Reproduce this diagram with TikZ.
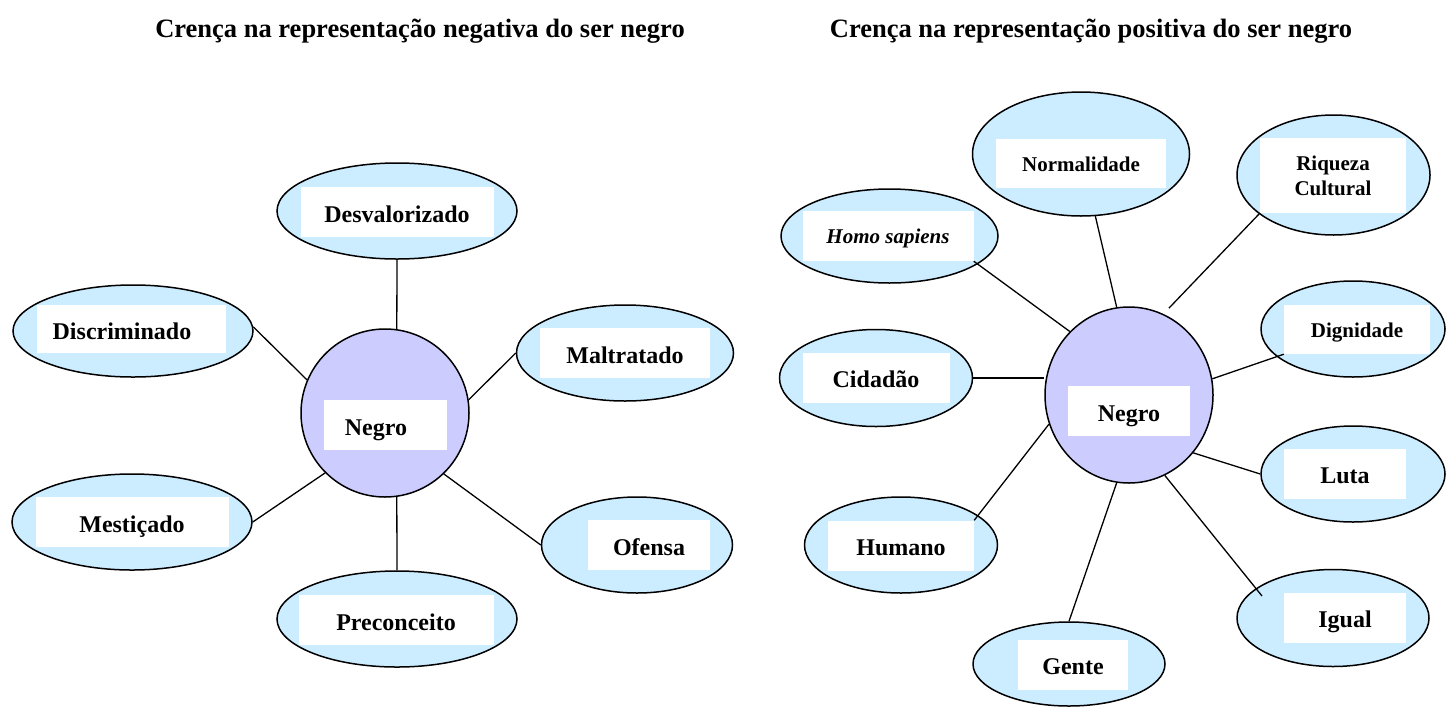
\documentclass[tikz,border=0pt]{standalone}
\usepackage{fontspec}
\setmainfont{Liberation Serif}
\usetikzlibrary{shapes.geometric}
\definecolor{elfill}{HTML}{CCECFF}
\definecolor{cirfill}{HTML}{CCCCFF}
\begin{document}
\begin{tikzpicture}[x=1pt,y=-1pt,
  el/.style={ellipse, draw=black, line width=1.5pt, fill=elfill, inner sep=0pt},
  ci/.style={ellipse, draw=black, line width=1.5pt, fill=cirfill, inner sep=0pt},
  wb/.style={rectangle, fill=white, inner sep=0pt, text height=35pt, text depth=15pt,
             font=\fontsize{24}{27}\selectfont\bfseries},
  ws/.style={rectangle, fill=white, inner sep=0pt, text height=32pt, text depth=17pt,
             font=\fontsize{21}{24}\selectfont\bfseries},
  wm/.style={rectangle, fill=white, inner sep=0pt, align=center,
             font=\fontsize{21}{25}\selectfont\bfseries},
  ttl/.style={font=\fontsize{26.5}{30}\selectfont\bfseries, inner sep=0pt, anchor=base},
  ln/.style={line width=1.3pt}
]
\fill[white] (0,0) rectangle (1447,710);
\useasboundingbox (0,0) rectangle (1447,710);

% titles
\node[ttl] (t1) at (420,37) {Crença na representação negativa do ser negro};
\node[ttl] (t2) at (1091,37) {Crença na representação positiva do ser negro};

% ---------- left diagram ----------
\node[ci, minimum width=168pt, minimum height=168pt] (negL) at (385,413) {};
\node[wb, minimum width=123pt] (negLb) at (385,425) {Negro\kern18pt};

\node[el, minimum width=240pt, minimum height=96pt] (desv) at (397,211) {};
\node[wb, minimum width=193pt] (desvb) at (397,212) {Desvalorizado};

\node[el, minimum width=240pt, minimum height=92pt] (disc) at (133,331) {};
\node[wb, minimum width=189pt, text height=34pt, text depth=14pt] (discb) at (131,329) {Discriminado\kern18pt};

\node[el, minimum width=217pt, minimum height=96pt] (malt) at (625,353) {};
\node[wb, minimum width=170pt] (maltb) at (625,353) {Maltratado};

\node[el, minimum width=240pt, minimum height=96pt] (mest) at (132,522) {};
\node[wb, minimum width=193pt] (mestb) at (132,522) {Mestiçado};

\node[el, minimum width=240pt, minimum height=96pt] (prec) at (397,619) {};
\node[wb, minimum width=195pt] (precb) at (396,620) {Preconceito};

\node[el, minimum width=191pt, minimum height=96pt] (ofen) at (637,545) {};
\node[wb, minimum width=122pt] (ofenb) at (649,545) {Ofensa};

\draw[ln] (desv.south) -- (negL.82);
\draw[ln] (disc.2) -- (negL.157);
\draw[ln] (negL.9) -- (malt.west);
\draw[ln] (mest.east) -- (negL.225);
\draw[ln] (negL.-82) -- (prec.north);
\draw[ln] (negL.-46) -- (ofen.west);

% ---------- right diagram ----------
\node[ci, minimum width=168pt, minimum height=176pt] (negR) at (1129,395) {};
\node[wb, minimum width=122pt] (negRb) at (1129,411) {Negro};

\node[el, minimum width=217pt, minimum height=124pt] (norm) at (1081,154) {};
\node[ws, minimum width=170pt] (normb) at (1081,163.5) {Normalidade};

\node[el, minimum width=193pt, minimum height=120pt] (riq) at (1333.5,175) {};
\node[wm, minimum width=146pt, minimum height=75pt] (riqb) at (1333,175.5) {Riqueza\\Cultural};

\node[el, minimum width=217pt, minimum height=94pt] (homo) at (889.5,236) {};
\node[ws, minimum width=171pt, minimum height=50pt] (homob) at (888,236) {\textit{Homo sapiens}};

\node[el, minimum width=193pt, minimum height=97pt] (cid) at (876,378) {};
\node[wb, minimum width=147pt] (cidb) at (876,377.5) {Cidadão};

\node[el, minimum width=193pt, minimum height=96pt] (hum) at (901,545) {};
\node[wb, minimum width=146pt] (humb) at (901,545.5) {Humano};

\node[el, minimum width=192pt, minimum height=84pt] (gente) at (1069,664) {};
\node[wb, minimum width=110pt] (genteb) at (1073,664.5) {Gente};

\node[el, minimum width=184pt, minimum height=96pt] (dig) at (1353,329) {};
\node[ws, minimum width=146pt] (digb) at (1357,329.5) {Dignidade};

\node[el, minimum width=184pt, minimum height=96pt] (luta) at (1353,474) {};
\node[wb, minimum width=122pt] (lutab) at (1345,473.5) {Luta};

\node[el, minimum width=192pt, minimum height=97pt] (igual) at (1333,618) {};
\node[wb, minimum width=122pt] (igualb) at (1345,617.5) {Igual};

\coordinate (igP) at (1262,596);

\draw[ln] (norm.-77.6) -- (negR.98.4);
\draw[ln, shorten >=8pt] (riqb.south west) -- (negR.67.8);
\draw[ln] (homob.south east) -- (negR.133);
\draw[ln] (cid.east) -- (cid.east -| negR.west);
\draw[ln] (negR.11) -- (digb.south west);
\draw[ln] (negR.-42.6) -- (luta.west);
\draw[ln] (negR.-66) -- (igP);
\draw[ln] (negR.-98.5) -- (gente.north);
\draw[ln] (negR.200) -- (humb.north east);
\end{tikzpicture}
\end{document}
